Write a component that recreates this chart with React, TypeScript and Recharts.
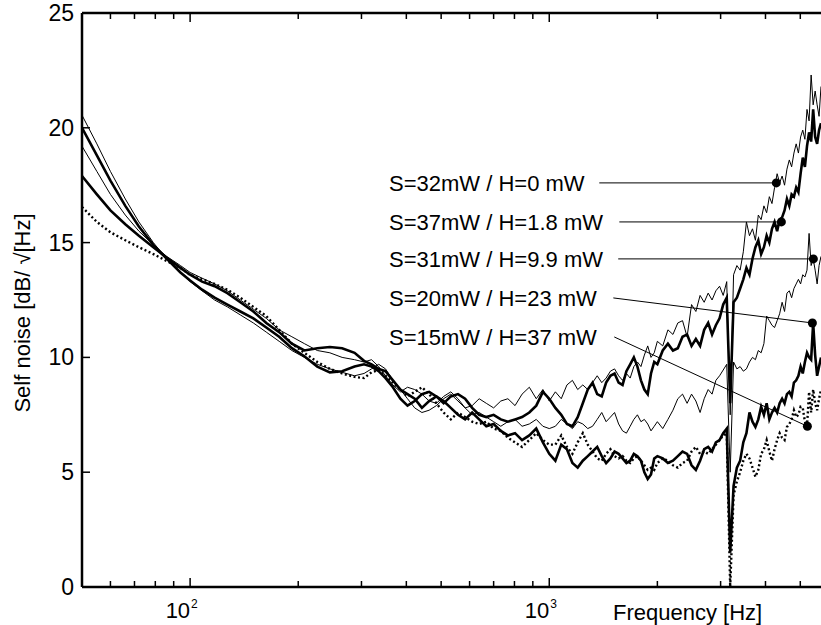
import React from 'react';
import { LineChart, Line, XAxis, YAxis, ReferenceLine, ReferenceDot } from 'recharts';

// frequency grid [Hz]
const freqs = [
  50, 55, 60, 66, 72, 79, 86, 94, 100, 108, 117, 127, 138, 150, 163, 177, 192, 208, 226, 245, 265, 287,
  305, 320, 335, 350, 367, 385, 403, 422, 442, 463, 485, 508, 532, 557, 583, 610, 638, 668, 700, 733, 767, 803, 840, 880, 920, 960, 1000,
  1040, 1080, 1120, 1160, 1200, 1240, 1280, 1320, 1360, 1400, 1440, 1480, 1520, 1560, 1600, 1640, 1680, 1720, 1760, 1800, 1840, 1880, 1920, 1960, 2000,
  2070, 2140, 2210, 2280, 2350, 2420, 2490, 2560, 2630, 2700, 2770, 2840, 2910, 2980, 3050, 3120, 3190, 3260, 3330, 3400, 3470, 3540, 3610, 3680, 3750,
  3820, 3890, 3960, 4030, 4100, 4170, 4240, 4310, 4380, 4450, 4520, 4590, 4660, 4730, 4800, 4870, 4940, 5010, 5080, 5150, 5220, 5290, 5360, 5430, 5500,
  5570, 5640, 5710,
];

// S=32mW / H=0 mW (thin)
const s32 = [
  20.55, 19.3, 18.1, 16.9, 15.9, 15.0, 14.3, 13.7, 13.3, 12.9, 12.5, 12.2, 11.85, 11.5, 11.1, 10.7, 10.3, 10.0, 9.7, 9.5, 9.35, 9.2,
  9.3, 9.5, 9.7, 9.5, 9.0, 8.6, 8.2, 7.8, 7.6, 7.7, 7.9, 8.2, 8.4, 8.1, 7.8, 7.9, 8.2, 8.0, 7.8, 8.1, 8.2, 7.9, 8.4, 8.7, 8.2, 8.6, 8.1,
  8.5, 8.2, 8.8, 9.0, 8.6, 8.8, 8.6, 8.9, 9.2, 8.9, 9.1, 9.4, 9.5, 9.2, 9.0, 9.3, 9.1, 9.6, 9.8, 9.6, 10.1, 10.5, 10.0, 10.2, 10.7,
  10.5, 11.2, 11.0, 11.5, 11.6, 10.9, 12.3, 12.0, 12.7, 12.4, 12.8, 12.5, 12.9, 13.1, 12.7, 13.3, 7.5, 13.6, 14.0, 13.8, 14.6, 15.9, 15.3, 15.6, 15.1,
  16.2, 16.0, 16.6, 16.3, 17.0, 16.7, 17.4, 18.0, 17.6, 17.9, 17.5, 18.2, 18.6, 18.3, 18.9, 19.3, 18.9, 19.6, 19.9, 19.5, 20.8, 20.3, 22.3, 21.0, 21.6,
  21.0, 20.5, 21.8,
];

// S=37mW / H=1.8 mW (thick)
const s37 = [
  20.0, 18.8, 17.7, 16.6, 15.7, 14.9, 14.3, 13.7, 13.35, 12.95, 12.6, 12.3, 12.0, 11.7, 11.3, 10.9, 10.4, 10.05, 9.6, 9.35, 9.4, 9.6,
  9.7, 9.6, 9.4, 9.1, 8.7, 8.2, 7.9, 8.1, 8.4, 8.5, 8.3, 8.0, 8.3, 8.4, 8.2, 7.8, 7.5, 7.4, 7.5, 7.3, 7.2, 7.3, 7.4, 7.6, 7.9, 8.5, 8.2,
  7.8, 7.5, 7.1, 7.0, 7.4, 8.0, 8.6, 8.9, 8.4, 8.3, 8.9, 9.2, 9.3, 8.9, 8.8, 9.4, 9.7, 10.0, 9.6, 9.0, 8.6, 8.4, 9.3, 9.8, 9.7,
  10.3, 10.6, 10.3, 10.4, 10.9, 11.0, 10.5, 10.8, 10.5, 11.2, 11.5, 11.0, 11.4, 11.7, 12.3, 12.6, 8.0, 12.4, 12.6, 13.0, 13.4, 13.9, 13.6, 14.3, 14.8,
  15.1, 14.5, 14.8, 15.3, 15.0, 15.6, 15.9, 15.5, 16.0, 16.1, 16.4, 16.9, 16.6, 17.1, 17.0, 17.4, 17.2, 18.0, 18.7, 18.3, 19.2, 19.8, 19.4, 20.8, 19.6,
  19.3, 19.9, 20.2,
];

// S=31mW / H=9.9 mW (thin)
const s31 = [
  19.2, 18.1, 17.1, 16.2, 15.5, 14.9, 14.4, 14.0, 13.7, 13.45, 13.2, 12.9, 12.5, 12.1, 11.7, 11.2, 10.9, 10.6, 10.3, 10.2, 10.0, 9.9,
  9.8, 9.9, 9.6, 9.2, 8.8, 8.5, 8.7, 8.6, 8.4, 8.1, 8.0, 8.3, 8.5, 8.2, 7.8, 7.5, 7.6, 7.4, 7.2, 7.0, 7.2, 7.3, 7.0, 7.1, 7.3, 7.0, 6.9,
  7.0, 7.3, 7.1, 6.9, 7.2, 7.1, 6.9, 7.0, 7.3, 7.6, 7.2, 7.4, 7.6, 7.1, 6.8, 6.7, 7.0, 7.3, 7.5, 7.2, 7.3, 7.1, 6.8, 7.0, 7.2,
  6.9, 7.3, 7.7, 8.2, 8.4, 8.0, 8.4, 8.1, 7.6, 8.2, 8.6, 8.4, 9.0, 9.2, 9.45, 9.7, 5.0, 9.8, 9.5, 9.6, 9.4, 9.5, 9.8, 10.0, 9.9,
  10.3, 10.2, 10.6, 11.8, 11.6, 11.4, 11.3, 11.6, 11.9, 12.4, 12.0, 12.8, 12.9, 12.6, 13.0, 13.2, 13.4, 13.2, 13.6, 13.5, 13.8, 15.4, 14.0, 14.3, 13.8,
  13.2, 14.0, 14.4,
];

// S=20mW / H=23 mW (thick)
const s20 = [
  17.9, 17.1, 16.4, 15.8, 15.3, 14.8, 14.35, 13.9, 13.6, 13.3, 13.1, 12.8, 12.4, 12.0, 11.5, 11.1, 10.6, 10.3, 10.4, 10.45, 10.4, 10.2,
  9.85, 9.7, 9.5, 9.4, 9.0, 8.6, 8.4, 8.2, 7.8, 8.1, 8.3, 8.1, 7.8, 7.5, 7.3, 7.6, 7.3, 7.0, 7.1, 6.8, 6.6, 6.7, 6.4, 6.6, 6.9, 6.3, 5.8,
  5.5, 6.2, 6.0, 5.4, 5.2, 5.5, 5.7, 5.9, 6.1, 5.7, 5.4, 5.6, 5.9, 5.8, 5.6, 5.4, 5.5, 5.8, 5.7, 5.5, 5.0, 4.7, 4.9, 5.6, 5.7,
  5.6, 5.4, 5.5, 5.7, 5.9, 5.8, 5.3, 5.1, 5.5, 6.0, 6.1, 5.9, 6.3, 6.4, 6.7, 6.9, 1.5, 4.4, 5.2, 5.5, 6.3, 6.7, 7.6, 7.2, 6.97,
  7.3, 7.85, 7.5, 8.0, 7.3, 7.6, 7.8, 7.6, 8.0, 8.2, 8.0, 8.4, 8.5, 8.3, 8.9, 9.0, 9.2, 9.6, 9.3, 9.8, 10.2, 10.0, 9.9, 11.5, 10.1,
  9.2, 9.6, 10.0,
];

// S=15mW / H=37 mW (dotted)
const s15 = [
  16.55, 15.9, 15.45, 15.1, 14.8, 14.5, 14.2, 13.9, 13.6, 13.4, 13.2, 12.95, 12.6, 12.2, 11.8, 11.2, 10.6, 10.2, 9.8, 9.5, 9.3, 9.15,
  9.1, 9.35, 9.45, 9.2, 8.9, 8.6, 8.3, 8.5, 8.7, 8.4, 8.0, 7.6, 7.3, 7.6, 7.4, 7.2, 7.1, 7.2, 6.9, 6.8, 6.5, 6.3, 6.1, 6.4, 6.7, 6.4, 6.2,
  6.2, 6.6, 6.1, 5.8, 6.3, 6.7, 6.2, 5.9, 5.6, 5.5, 5.8, 6.0, 5.7, 5.6, 5.7, 5.5, 5.4, 5.6, 5.7, 5.5, 5.3, 5.1, 5.2, 5.1, 5.4,
  5.6, 5.5, 5.3, 5.2, 5.4, 5.5, 5.9, 6.1, 5.8, 5.9, 5.8, 6.0, 6.2, 6.4, 6.6, 6.7, 0, 4.0, 4.6, 5.0, 5.5, 5.8, 5.6, 5.2, 4.8,
  5.1, 5.8, 6.0, 6.4, 5.9, 5.5, 6.0, 6.4, 6.7, 6.5, 6.4, 6.97, 7.1, 7.3, 7.7, 7.4, 7.5, 7.85, 7.8, 7.2, 7.0, 8.5, 7.6, 8.6, 8.0,
  7.7, 8.2, 8.6,
];

const xTicks = [50, 60, 70, 80, 90, 100, 200, 300, 400, 500, 600, 700, 800, 900, 1000, 2000, 3000, 4000, 5000];
const decades = [100, 1000];
const yTicks = [0, 5, 10, 15, 20, 25];

const noteLabels = ['S=32mW / H=0 mW', 'S=37mW / H=1.8 mW', 'S=31mW / H=9.9 mW', 'S=20mW / H=23 mW', 'S=15mW / H=37 mW'];
const noteTextFreq = 358;
const noteY = [17.6, 15.9, 14.29, 12.59, 10.89];
const noteLineFreq = [1378, 1567, 1556, 1508, 1517];
const noteDotFreq = [4288, 4429, 5437, 5403, 5233];
const noteDotY = [17.6, 15.9, 14.29, 11.5, 7.0];

const data = freqs.map((f, i) => ({ f, a: s32[i], b: s37[i], c: s31[i], d: s20[i], e: s15[i] }));

const FONT = '"Liberation Sans", Arial, sans-serif';

const BottomTick = (p: any) => {
  const { x, y, payload } = p;
  const major = decades.includes(payload.value);
  return (
    <g>
      <line x1={x} x2={x} y1={y} y2={y - (major ? 9 : 6)} stroke="#000" strokeWidth={1.5} />
      {major && (
        <>
          <text x={x} y={y + 31} textAnchor="end" fontSize={22} fontFamily={FONT} fill="#000">10</text>
          <text x={x + 1} y={y + 21} textAnchor="start" fontSize={12} fontFamily={FONT} fill="#000">
            {Math.round(Math.log10(payload.value))}
          </text>
        </>
      )}
    </g>
  );
};

const TopTick = (p: any) => {
  const { x, y, payload } = p;
  const major = decades.includes(payload.value);
  return <line x1={x} x2={x} y1={y} y2={y + (major ? 9 : 6)} stroke="#000" strokeWidth={1.5} />;
};

const LeftTick = (p: any) => {
  const { x, y, payload } = p;
  return (
    <g>
      <line x1={x} x2={x + 8} y1={y} y2={y} stroke="#000" strokeWidth={1.5} />
      <text x={x - 8} y={y} dy="0.35em" textAnchor="end" fontSize={23} fontFamily={FONT} fill="#000">
        {payload.value}
      </text>
    </g>
  );
};

export default function App() {
  return (
    <div style={{ position: 'absolute', left: 0, top: 0, background: '#fff' }}>
      <LineChart width={821} height={625} data={data} margin={{ top: 0, right: 0, bottom: 0, left: 0 }}>
        <XAxis
          dataKey="f"
          type="number"
          scale="log"
          domain={[50, 5710]}
          allowDataOverflow
          ticks={xTicks}
          interval={0}
          tickSize={0}
          tickMargin={0}
          tickLine={false}
          height={38}
          axisLine={{ stroke: '#000', strokeWidth: 2.5 }}
          tick={(p: any) => <BottomTick {...p} />}
          label={(p: any) => {
            const vb = p.viewBox || { x: 82, y: 587 };
            return (
              <text x={vb.x + 531} y={vb.y + 25} dy="0.35em" fontSize={22} fontFamily={FONT} fill="#000">
                Frequency [Hz]
              </text>
            );
          }}
        />
        <XAxis
          xAxisId="top"
          orientation="top"
          dataKey="f"
          type="number"
          scale="log"
          domain={[50, 5710]}
          allowDataOverflow
          ticks={xTicks}
          interval={0}
          tickSize={0}
          tickMargin={0}
          tickLine={false}
          height={13}
          axisLine={{ stroke: '#000', strokeWidth: 2.5 }}
          tick={(p: any) => <TopTick {...p} />}
        />
        <YAxis
          type="number"
          domain={[0, 25]}
          ticks={yTicks}
          interval={0}
          width={82}
          tickSize={0}
          tickMargin={0}
          tickLine={false}
          allowDataOverflow
          axisLine={{ stroke: '#000', strokeWidth: 2.5 }}
          tick={(p: any) => <LeftTick {...p} />}
          label={(p: any) => {
            const vb = p.viewBox || { x: 0, y: 13, width: 82, height: 574 };
            const cx = vb.x + 22;
            const cy = vb.y + vb.height / 2 + 13;
            return (
              <text
                x={cx}
                y={cy}
                dy="0.35em"
                textAnchor="middle"
                transform={`rotate(-90 ${cx} ${cy})`}
                fontSize={22}
                fontFamily={FONT}
                fill="#000"
              >
                Self noise [dB/ √[Hz]
              </text>
            );
          }}
        />
        <Line type="linear" dataKey="c" stroke="#000" strokeWidth={1} dot={false} isAnimationActive={false} />
        <Line type="linear" dataKey="a" stroke="#000" strokeWidth={1} dot={false} isAnimationActive={false} />
        <Line type="linear" dataKey="e" stroke="#000" strokeWidth={2.4} strokeDasharray="2 2.5" dot={false} isAnimationActive={false} />
        <Line type="linear" dataKey="d" stroke="#000" strokeWidth={2.6} dot={false} isAnimationActive={false} />
        <Line type="linear" dataKey="b" stroke="#000" strokeWidth={2.6} dot={false} isAnimationActive={false} />
        {noteLabels.map((txt, i) => (
          <ReferenceLine
            key={`l${i}`}
            segment={[
              { x: noteLineFreq[i], y: noteY[i] },
              { x: noteDotFreq[i], y: noteDotY[i] },
            ]}
            stroke="#000"
            strokeWidth={1}
          />
        ))}
        {noteLabels.map((txt, i) => (
          <ReferenceDot key={`d${i}`} x={noteDotFreq[i]} y={noteDotY[i]} r={4.5} fill="#000" stroke="none" />
        ))}
        {noteLabels.map((txt, i) => (
          <ReferenceDot
            key={`t${i}`}
            x={noteTextFreq}
            y={noteY[i]}
            r={1}
            shape={(p: any) => (
              <text x={p.cx} y={p.cy} dy="0.35em" fontSize={22} fontFamily={FONT} fill="#000">
                {txt}
              </text>
            )}
          />
        ))}
      </LineChart>
    </div>
  );
}
